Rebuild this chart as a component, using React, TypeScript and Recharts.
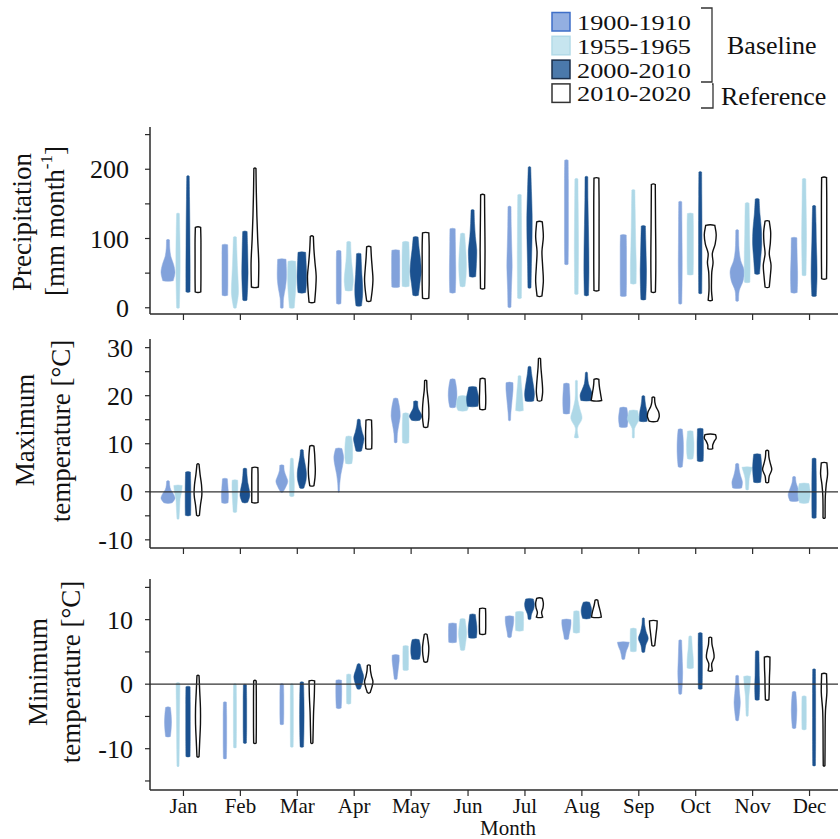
import React from 'react';
import { ComposedChart, Bar, XAxis, YAxis, ReferenceLine } from 'recharts';

const FONT = '"Liberation Serif", serif';

const months = ['Jan', 'Feb', 'Mar', 'Apr', 'May', 'Jun', 'Jul', 'Aug', 'Sep', 'Oct', 'Nov', 'Dec'];
const periods = ['1900-1910', '1955-1965', '2000-2010', '2010-2020'];

// ---- precipitation: [min, max] per month
const p1900 = [[39, 98], [18, 91], [0, 70], [6, 82], [30, 83], [22, 114], [1, 146], [63, 213], [17, 105], [6, 153], [10, 112], [22, 101]];
const p1955 = [[0, 136], [0, 102], [0, 67], [25, 95], [31, 95], [31, 107], [14, 163], [20, 186], [35, 170], [48, 136], [37, 151], [47, 186]];
const p2000 = [[23, 190], [11, 110], [22, 80], [3, 78], [18, 102], [45, 141], [29, 203], [18, 189], [12, 118], [21, 196], [49, 157], [17, 147]];
const p2010 = [[23, 116], [30, 201], [8, 103], [10, 88], [14, 108], [28, 163], [17, 124], [25, 187], [23, 178], [11, 119], [30, 125], [42, 188]];

// relative density (bottom -> top)
const pd1900 = [
  [0.75, 1.0, 0.8, 0.4, 0.25, 0.22], [0.4, 0.42, 0.42, 0.42, 0.42, 0.4], [0.2, 0.25, 0.5, 0.65, 0.65, 0.6], [0.32, 0.35, 0.35, 0.35, 0.35, 0.32],
  [0.55, 0.58, 0.58, 0.58, 0.58, 0.55], [0.4, 0.45, 0.45, 0.42, 0.4, 0.38], [0.22, 0.28, 0.38, 0.32, 0.25, 0.22], [0.25, 0.28, 0.28, 0.28, 0.28, 0.25],
  [0.42, 0.45, 0.45, 0.45, 0.45, 0.42], [0.22, 0.26, 0.28, 0.26, 0.24, 0.22], [0.2, 0.3, 0.85, 1.0, 0.5, 0.28, 0.22, 0.2], [0.45, 0.5, 0.5, 0.45, 0.42, 0.4],
];
const pd1955 = [
  [0.2, 0.26, 0.3, 0.3, 0.26, 0.2], [0.2, 0.5, 0.45, 0.35, 0.28, 0.22], [0.35, 0.45, 0.55, 0.6, 0.6, 0.55], [0.5, 0.65, 0.55, 0.4, 0.32, 0.28],
  [0.5, 0.52, 0.52, 0.52, 0.5, 0.45], [0.35, 0.5, 0.55, 0.5, 0.4, 0.3], [0.28, 0.3, 0.32, 0.3, 0.28, 0.25], [0.25, 0.28, 0.3, 0.28, 0.25, 0.22],
  [0.4, 0.42, 0.35, 0.3, 0.26, 0.22], [0.42, 0.45, 0.45, 0.45, 0.45, 0.42], [0.4, 0.42, 0.4, 0.35, 0.32, 0.28], [0.28, 0.32, 0.35, 0.32, 0.28, 0.25],
];
const pd2000 = [
  [0.3, 0.3, 0.28, 0.26, 0.22, 0.18], [0.3, 0.4, 0.45, 0.42, 0.38, 0.32], [0.55, 0.65, 0.68, 0.65, 0.6, 0.55], [0.4, 0.55, 0.55, 0.45, 0.38, 0.32],
  [0.4, 0.6, 0.8, 0.7, 0.5, 0.35], [0.45, 0.55, 0.6, 0.4, 0.28, 0.22], [0.22, 0.28, 0.36, 0.38, 0.28, 0.18], [0.3, 0.36, 0.34, 0.28, 0.22, 0.2],
  [0.35, 0.42, 0.45, 0.4, 0.35, 0.3], [0.22, 0.24, 0.24, 0.24, 0.22, 0.2], [0.35, 0.5, 0.65, 0.6, 0.4, 0.28], [0.32, 0.42, 0.4, 0.32, 0.28, 0.22],
];
const pd2010 = [
  [0.4, 0.42, 0.42, 0.42, 0.42, 0.38], [0.5, 0.55, 0.4, 0.28, 0.2, 0.15], [0.4, 0.55, 0.62, 0.45, 0.3, 0.22], [0.3, 0.5, 0.6, 0.5, 0.38, 0.3],
  [0.45, 0.5, 0.5, 0.5, 0.5, 0.45], [0.3, 0.33, 0.35, 0.33, 0.3, 0.28], [0.35, 0.55, 0.45, 0.35, 0.55, 0.4], [0.35, 0.38, 0.38, 0.38, 0.38, 0.35],
  [0.3, 0.35, 0.35, 0.32, 0.3, 0.28], [0.3, 0.18, 0.18, 0.22, 0.4, 0.3, 0.7, 0.85, 0.65], [0.3, 0.45, 0.55, 0.3, 0.45, 0.5, 0.3], [0.35, 0.38, 0.38, 0.38, 0.38, 0.35],
];

// ---- maximum temperature
const t1900 = [[-2.3, 2.2], [-2.3, 2.7], [0, 5.5], [0, 9.0], [10.3, 19.4], [17.6, 23.4], [14.9, 22.7], [16.3, 22.5], [13.5, 17.5], [5.2, 13.0], [0.8, 5.8], [-1.9, 3.1]];
const t1955 = [[-5.6, 1.3], [-4.2, 2.4], [-0.9, 6.9], [5.9, 11.5], [10.2, 16.3], [16.9, 19.9], [16.9, 24.1], [11.3, 23.1], [11.3, 16.9], [6.9, 12.6], [0.5, 5.1], [-2.3, 1.7]];
const t2000 = [[-4.9, 4.1], [-2.2, 4.8], [0.8, 8.7], [8.5, 15.0], [14.9, 18.8], [17.8, 21.8], [18.9, 26.0], [19.0, 24.8], [14.7, 19.9], [6.4, 13.1], [2.0, 7.8], [-5.4, 6.9]];
const t2010 = [[-4.9, 5.7], [-2.2, 5.0], [1.3, 9.5], [9.0, 14.9], [13.5, 23.1], [17.2, 23.5], [19.0, 27.7], [19.0, 23.4], [14.7, 19.6], [9.0, 11.9], [2.0, 8.5], [-5.4, 6.0]];

const td1900 = [
  [0.6, 1.0, 0.8, 0.4, 0.25, 0.2], [0.45, 0.5, 0.5, 0.45, 0.4, 0.35], [0.2, 0.6, 0.85, 0.6, 0.35, 0.3], [0.1, 0.15, 0.3, 0.55, 0.7, 0.45],
  [0.2, 0.25, 0.45, 0.65, 0.55, 0.3], [0.4, 0.55, 0.62, 0.6, 0.5, 0.35], [0.15, 0.2, 0.3, 0.4, 0.5, 0.5], [0.45, 0.5, 0.52, 0.5, 0.45, 0.4],
  [0.55, 0.65, 0.68, 0.6, 0.5], [0.3, 0.4, 0.45, 0.45, 0.4, 0.3], [0.65, 0.75, 0.5, 0.3, 0.22], [0.6, 0.85, 0.6, 0.3, 0.2],
];
const td1955 = [
  [0.15, 0.2, 0.25, 0.3, 0.5, 0.6], [0.25, 0.3, 0.35, 0.4, 0.42, 0.4], [0.3, 0.35, 0.35, 0.3, 0.25, 0.2], [0.45, 0.55, 0.55, 0.55, 0.5, 0.4],
  [0.45, 0.48, 0.48, 0.48, 0.45, 0.4], [0.65, 0.85, 0.9, 0.8, 0.6], [0.55, 0.5, 0.42, 0.35, 0.25, 0.2], [0.3, 0.15, 0.8, 0.5, 0.2, 0.15, 0.15],
  [0.15, 0.15, 0.18, 0.5, 0.85, 0.75, 0.6], [0.4, 0.5, 0.52, 0.52, 0.45, 0.4], [0.2, 0.25, 0.3, 0.5, 0.75], [0.65, 0.85, 0.85, 0.7],
];
const td2000 = [
  [0.38, 0.4, 0.4, 0.4, 0.38, 0.35], [0.4, 0.7, 0.6, 0.4, 0.3, 0.25], [0.3, 0.6, 0.65, 0.5, 0.3, 0.2], [0.4, 0.6, 0.75, 0.5, 0.3, 0.2],
  [0.6, 0.9, 0.7, 0.4, 0.3, 0.3], [0.75, 0.85, 0.85, 0.7, 0.55], [0.6, 0.7, 0.6, 0.45, 0.3, 0.2], [0.8, 0.9, 0.6, 0.3, 0.2, 0.15],
  [0.55, 0.55, 0.5, 0.35, 0.25, 0.2], [0.42, 0.45, 0.45, 0.45, 0.42, 0.4], [0.5, 0.6, 0.65, 0.6, 0.5], [0.3, 0.32, 0.32, 0.32, 0.3, 0.28],
];
const td2010 = [
  [0.2, 0.35, 0.55, 0.5, 0.3, 0.15], [0.45, 0.45, 0.45, 0.45, 0.45, 0.42], [0.3, 0.45, 0.5, 0.45, 0.4, 0.3], [0.42, 0.45, 0.45, 0.45, 0.42, 0.4],
  [0.3, 0.45, 0.45, 0.35, 0.2, 0.15], [0.4, 0.45, 0.45, 0.42, 0.4, 0.35], [0.3, 0.45, 0.4, 0.3, 0.2, 0.15], [0.75, 0.65, 0.55, 0.45, 0.38, 0.35],
  [0.6, 0.85, 0.75, 0.4, 0.22, 0.18], [0.35, 0.35, 0.55, 0.85, 0.75], [0.2, 0.3, 0.65, 0.45, 0.25, 0.2], [0.15, 0.15, 0.18, 0.3, 0.5, 0.4],
];

// ---- minimum temperature
const n1900 = [[-8.1, -3.6], [-11.5, -2.8], [-6.2, 0], [-3.7, 0.6], [0.8, 4.5], [6.5, 9.4], [7.3, 10.5], [7.0, 10.0], [3.9, 6.5], [-1.5, 6.8], [-5.6, 1.3], [-6.8, -1.2]];
const n1955 = [[-12.7, 0.15], [-9.8, 0], [-9.7, 0], [-3.0, 1.5], [2.2, 5.9], [5.3, 10.1], [8.3, 11.2], [8.0, 11.3], [5.1, 8.6], [2.5, 7.4], [-4.9, 1.2], [-7.0, -1.9]];
const n2000 = [[-11.2, -0.4], [-9.1, -0.1], [-9.7, 0.3], [-0.7, 3.1], [3.9, 6.9], [7.2, 10.8], [10.1, 13.2], [10.2, 12.7], [5.0, 10.2], [-0.7, 7.9], [-2.4, 5.1], [-12.6, 2.3]];
const n2010 = [[-11.2, 1.3], [-9.1, 0.5], [-9.1, 0.5], [-1.3, 2.9], [3.5, 7.7], [7.8, 11.7], [10.4, 13.3], [10.4, 13.0], [6.0, 9.8], [2.1, 7.2], [-2.4, 4.2], [-12.6, 1.6]];

const nd1900 = [
  [0.35, 0.45, 0.5, 0.45, 0.35], [0.22, 0.25, 0.25, 0.25, 0.22], [0.25, 0.28, 0.28, 0.28, 0.25], [0.35, 0.4, 0.42, 0.42, 0.4],
  [0.2, 0.3, 0.4, 0.5, 0.5], [0.55, 0.58, 0.58, 0.58, 0.55], [0.25, 0.35, 0.5, 0.6, 0.6], [0.3, 0.4, 0.55, 0.65, 0.65],
  [0.2, 0.3, 0.45, 0.7, 0.85], [0.2, 0.3, 0.35, 0.3, 0.25, 0.2], [0.2, 0.35, 0.45, 0.35, 0.25, 0.2], [0.25, 0.35, 0.4, 0.35, 0.25],
];
const nd1955 = [
  [0.15, 0.18, 0.2, 0.22, 0.25, 0.28], [0.2, 0.22, 0.22, 0.22, 0.2], [0.2, 0.22, 0.22, 0.22, 0.2], [0.3, 0.32, 0.32, 0.32, 0.3],
  [0.38, 0.4, 0.4, 0.4, 0.38], [0.3, 0.45, 0.58, 0.5, 0.35], [0.55, 0.58, 0.58, 0.58, 0.55], [0.45, 0.48, 0.45, 0.42, 0.38],
  [0.42, 0.45, 0.45, 0.45, 0.42], [0.45, 0.45, 0.4, 0.3, 0.25, 0.2], [0.15, 0.2, 0.25, 0.4, 0.5], [0.3, 0.32, 0.32, 0.32, 0.3],
];
const nd2000 = [
  [0.3, 0.32, 0.32, 0.32, 0.3], [0.22, 0.25, 0.25, 0.25, 0.22], [0.25, 0.3, 0.32, 0.3, 0.25], [0.25, 0.55, 0.7, 0.45, 0.2],
  [0.55, 0.68, 0.7, 0.65, 0.5], [0.55, 0.62, 0.6, 0.5, 0.4], [0.2, 0.3, 0.6, 0.7, 0.55], [0.55, 0.7, 0.75, 0.65, 0.45],
  [0.2, 0.35, 0.7, 0.4, 0.2, 0.15], [0.28, 0.3, 0.3, 0.3, 0.28], [0.3, 0.35, 0.3, 0.28, 0.25], [0.2, 0.22, 0.22, 0.22, 0.2],
];
const nd2010 = [
  [0.15, 0.25, 0.35, 0.35, 0.25, 0.15], [0.18, 0.2, 0.2, 0.2, 0.18], [0.15, 0.2, 0.25, 0.35, 0.4], [0.2, 0.45, 0.6, 0.4, 0.25, 0.2],
  [0.25, 0.4, 0.45, 0.35, 0.2], [0.42, 0.45, 0.45, 0.45, 0.42], [0.45, 0.3, 0.5, 0.55, 0.4], [0.7, 0.6, 0.45, 0.3, 0.2],
  [0.2, 0.3, 0.4, 0.5, 0.55], [0.3, 0.2, 0.55, 0.45, 0.25, 0.2], [0.25, 0.3, 0.32, 0.38, 0.4], [0.12, 0.14, 0.15, 0.2, 0.4, 0.35],
];

const fills = ['#82A2DB', '#AED8E7', '#1B5190', '#FFFFFF'];
const strokes = ['#8DABDF', '#B6DCEA', '#23598F', '#111111'];
const legendFills = ['#93AFE1', '#C6E5EF', '#4B79AB', '#FFFFFF'];
const legendStrokes = ['#3F6FC8', '#B2DAE7', '#1B2F4B', '#333333'];

const buildRows = (ranges: number[][][], dens: number[][][]) =>
  months.map((m, i) => {
    const row: any = { month: m };
    ranges.forEach((r, k) => {
      row['r' + k] = r[i];
      row['d' + k] = dens[k][i];
    });
    return row;
  });

const precipRows = buildRows([p1900, p1955, p2000, p2010], [pd1900, pd1955, pd2000, pd2010]);
const tmaxRows = buildRows([t1900, t1955, t2000, t2010], [td1900, td1955, td2000, td2010]);
const tminRows = buildRows([n1900, n1955, n2000, n2010], [nd1900, nd1955, nd2000, nd2010]);

const smooth = (pts: number[][]) => {
  let d = '';
  for (let i = 0; i < pts.length - 1; i++) {
    const p0 = pts[Math.max(i - 1, 0)];
    const p1 = pts[i];
    const p2 = pts[i + 1];
    const p3 = pts[Math.min(i + 2, pts.length - 1)];
    const c1x = p1[0] + (p2[0] - p0[0]) / 6;
    const c1y = p1[1] + (p2[1] - p0[1]) / 6;
    const c2x = p2[0] - (p3[0] - p1[0]) / 6;
    const c2y = p2[1] - (p3[1] - p1[1]) / 6;
    d += ` C${c1x},${c1y} ${c2x},${c2y} ${p2[0]},${p2[1]}`;
  }
  return d;
};

const MAX_HALF = 7;

const makeViolin = (k: number) => (props: any) => {
  const { x, y, width, height, payload } = props;
  const prof: number[] = payload['d' + k];
  if (!prof || x == null) return null;
  const cx = x + width / 2;
  const top = Math.min(y, y + height);
  const bottom = Math.max(y, y + height);
  const n = prof.length;
  const right = prof.map((w, i) => [cx + w * MAX_HALF, bottom - (i / (n - 1)) * (bottom - top)]);
  const left = right.map(([px, py]) => [2 * cx - px, py]).reverse();
  const rb = right[0];
  const lt = left[0];
  const lb = left[n - 1];
  const d =
    `M${lb[0]},${lb[1]} Q${cx},${bottom + 1.2} ${rb[0]},${rb[1]}` +
    smooth(right) +
    ` Q${cx},${top - 1.2} ${lt[0]},${lt[1]}` +
    smooth(left) +
    ' Z';
  return <path d={d} fill={fills[k]} stroke={strokes[k]} strokeWidth={k === 3 ? 1.4 : 0.5} />;
};

const frameStroke = '#2a2a2a';

interface PanelProps {
  rows: any[];
  domain: number[];
  ticks: number[];
  major: number;
  top: number;
  height: number;
  marginTop: number;
  marginBottom: number;
  xHeight: number;
  showMonths: boolean;
  zeroLine: boolean;
  tickMargin: number;
}

const Panel: React.FC<PanelProps> = (p) => (
  <div style={{ position: 'absolute', left: 0, top: p.top }}>
    <ComposedChart
      width={840}
      height={p.height}
      data={p.rows}
      margin={{ top: p.marginTop, right: 2, bottom: p.marginBottom, left: 0 }}
      barGap={0}
    >
      <XAxis
        dataKey="month"
        padding={{ left: 5, right: 0 }}
        height={p.xHeight}
        tickSize={6}
        tickMargin={2}
        interval={0}
        axisLine={{ stroke: frameStroke, strokeWidth: 1.5 }}
        tickLine={{ stroke: frameStroke, strokeWidth: 1.2 }}
        tick={{ fontSize: 21, fill: '#111', fontFamily: FONT }}
        tickFormatter={(v: string) => (p.showMonths ? v : '')}
      />
      <XAxis xAxisId="top" dataKey="month" orientation="top" height={0} tick={false} tickLine={false}
        axisLine={{ stroke: frameStroke, strokeWidth: 1.5 }} />
      <YAxis
        type="number"
        domain={p.domain}
        ticks={p.ticks}
        allowDataOverflow
        width={150}
        tickSize={5}
        tickMargin={p.tickMargin}
        interval={0}
        axisLine={{ stroke: frameStroke, strokeWidth: 1.5 }}
        tickLine={{ stroke: frameStroke, strokeWidth: 1.2 }}
        tick={{ fontSize: 26, fill: '#111', fontFamily: FONT }}
        tickFormatter={(v: number) => (Math.abs(v) % p.major === 0 ? String(v) : '')}
      />
      <YAxis yAxisId="right" orientation="right" width={0} domain={p.domain} tick={false} tickLine={false}
        axisLine={{ stroke: '#9a9a9a', strokeWidth: 1.5 }} />
      {p.zeroLine && <ReferenceLine y={0} stroke="#333" strokeWidth={1.3} />}
      {[0, 1, 2, 3].map((k) => (
        <Bar key={k} dataKey={'r' + k} barSize={10} shape={makeViolin(k)} isAnimationActive={false} />
      ))}
    </ComposedChart>
  </div>
);

const Overlay = () => (
  <svg width={840} height={839} style={{ position: 'absolute', left: 0, top: 0, pointerEvents: 'none' }}
    fontFamily={FONT} fill="#111">
    {periods.map((label, i) => (
      <g key={label}>
        <rect x={552} y={12.5 + i * 23.8} width={18} height={18.5} fill={legendFills[i]} stroke={legendStrokes[i]} strokeWidth={1.5} />
        <text x={577} y={22.5 + i * 23.8} fontSize={22} textLength={114} lengthAdjust="spacingAndGlyphs"
          dominantBaseline="central">{label}</text>
      </g>
    ))}
    <path d="M701,8 H712 V82 H701" fill="none" stroke="#333" strokeWidth={1.3} />
    <path d="M712,84 H713 V108 H701" fill="none" stroke="#333" strokeWidth={1.3} />
    <text x={727} y={45} fontSize={26} dominantBaseline="central">Baseline</text>
    <text x={721} y={96} fontSize={26} dominantBaseline="central">Reference</text>

    <g transform="translate(22,222) rotate(-90)">
      <text fontSize={27} textAnchor="middle" dominantBaseline="central">Precipitation</text>
    </g>
    <g transform="translate(55,221) rotate(-90)">
      <text fontSize={27} textAnchor="middle" dominantBaseline="central">
        [mm month<tspan fontSize={17} dy={-9}>-1</tspan><tspan dy={9}>]</tspan>
      </text>
    </g>
    <g transform="translate(25,430) rotate(-90)">
      <text fontSize={27} textAnchor="middle" dominantBaseline="central">Maximum</text>
    </g>
    <g transform="translate(61,431) rotate(-90)">
      <text fontSize={27} textAnchor="middle" dominantBaseline="central">temperature [°C]</text>
    </g>
    <g transform="translate(38,672) rotate(-90)">
      <text fontSize={27} textAnchor="middle" dominantBaseline="central">Minimum</text>
    </g>
    <g transform="translate(71,672) rotate(-90)">
      <text fontSize={27} textAnchor="middle" dominantBaseline="central">temperature [°C]</text>
    </g>
    <text x={508} y={828} fontSize={21} textAnchor="middle" dominantBaseline="central">Month</text>
  </svg>
);

export default function App() {
  return (
    <div style={{ position: 'absolute', left: 0, top: 0, width: 840, height: 839, background: '#fff', overflow: 'hidden' }}>
      <Panel rows={precipRows} domain={[-9, 261]} ticks={[0, 50, 100, 150, 200, 250]} major={100}
        top={110} height={240} marginTop={17} marginBottom={16} xHeight={20} showMonths={false} zeroLine={false} tickMargin={16} />
      <Panel rows={tmaxRows} domain={[-11.7, 31.8]} ticks={[-10, -5, 0, 5, 10, 15, 20, 25, 30]} major={10}
        top={330} height={240} marginTop={9} marginBottom={2} xHeight={20} showMonths={false} zeroLine tickMargin={12} />
      <Panel rows={tminRows} domain={[-16.4, 16.3]} ticks={[-15, -10, -5, 0, 5, 10, 15]} major={10}
        top={570} height={269} marginTop={9} marginBottom={9} xHeight={40} showMonths zeroLine tickMargin={12} />
      <Overlay />
    </div>
  );
}
